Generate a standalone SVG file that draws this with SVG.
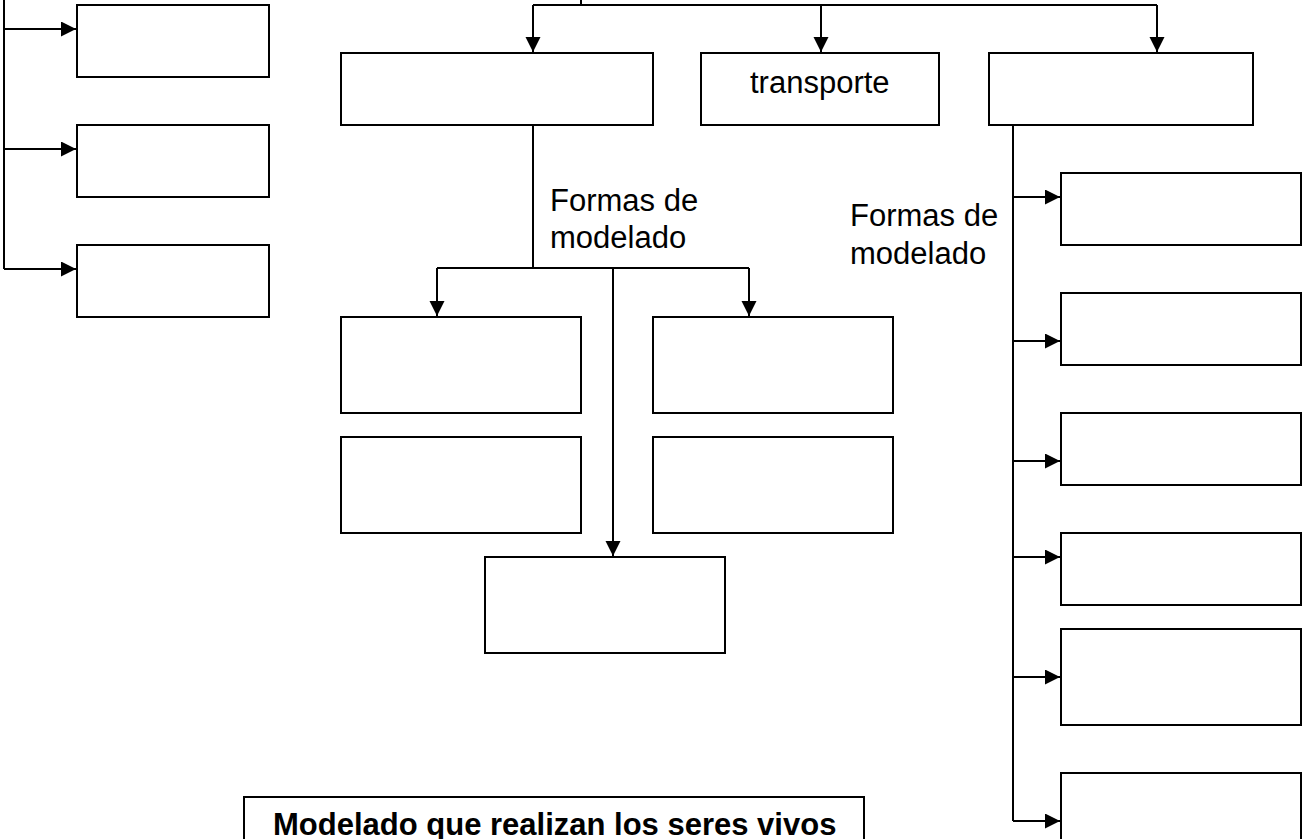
<svg xmlns="http://www.w3.org/2000/svg" width="1303" height="839" viewBox="0 0 1303 839">
<defs>
<marker id="ah" markerUnits="userSpaceOnUse" markerWidth="16" markerHeight="16" refX="15" refY="7.5" orient="auto">
<path d="M0,0 L15,7.5 L0,15 z" fill="#000"/>
</marker>
<style>
.box{fill:#fff;stroke:#000;stroke-width:2}
.ln{fill:none;stroke:#000;stroke-width:2}
.ar{fill:none;stroke:#000;stroke-width:2;marker-end:url(#ah)}
.t{font-family:"Liberation Sans",Arial,sans-serif;font-size:31px;fill:#000}
.b{font-family:"Liberation Sans",Arial,sans-serif;font-size:31px;font-weight:bold;fill:#000}
</style>
</defs>
<rect width="1303" height="839" fill="#fff"/>
<g id="connectors">
<path class="ln" d="M4,0 V269"/>
<path class="ar" d="M4,29 H76"/>
<path class="ar" d="M4,149 H76"/>
<path class="ar" d="M4,269 H76"/>
<path class="ln" d="M581,0 V5 M533,5 H1157"/>
<path class="ar" d="M533,5 V52"/>
<path class="ar" d="M821,5 V52"/>
<path class="ar" d="M1157,5 V52"/>
<path class="ln" d="M533,125 V268 M437,268 H749"/>
<path class="ar" d="M437,268 V316"/>
<path class="ar" d="M749,268 V316"/>
<path class="ar" d="M613,268 V556"/>
<path class="ln" d="M1013,125 V821"/>
<path class="ar" d="M1013,197 H1060"/>
<path class="ar" d="M1013,341 H1060"/>
<path class="ar" d="M1013,461 H1060"/>
<path class="ar" d="M1013,557 H1060"/>
<path class="ar" d="M1013,677 H1060"/>
<path class="ar" d="M1013,821 H1060"/>
</g>
<g id="L1"><rect class="box" x="77" y="5" width="192" height="72"/></g>
<g id="L2"><rect class="box" x="77" y="125" width="192" height="72"/></g>
<g id="L3"><rect class="box" x="77" y="245" width="192" height="72"/></g>
<g id="T1"><rect class="box" x="341" y="53" width="312" height="72"/></g>
<g id="T2"><rect class="box" x="701" y="53" width="238" height="72"/><text class="t" x="750" y="93">transporte</text></g>
<g id="T3"><rect class="box" x="989" y="53" width="264" height="72"/></g>
<g id="lab1"><text class="t" x="550" y="211">Formas de</text><text class="t" x="550" y="248">modelado</text></g>
<g id="lab2"><text class="t" x="850" y="226">Formas de</text><text class="t" x="850" y="264">modelado</text></g>
<g id="M1"><rect class="box" x="341" y="317" width="240" height="96"/></g>
<g id="M2"><rect class="box" x="653" y="317" width="240" height="96"/></g>
<g id="M3"><rect class="box" x="341" y="437" width="240" height="96"/></g>
<g id="M4"><rect class="box" x="653" y="437" width="240" height="96"/></g>
<g id="M5"><rect class="box" x="485" y="557" width="240" height="96"/></g>
<g id="R1"><rect class="box" x="1061" y="173" width="240" height="72"/></g>
<g id="R2"><rect class="box" x="1061" y="293" width="240" height="72"/></g>
<g id="R3"><rect class="box" x="1061" y="413" width="240" height="72"/></g>
<g id="R4"><rect class="box" x="1061" y="533" width="240" height="72"/></g>
<g id="R5"><rect class="box" x="1061" y="629" width="240" height="96"/></g>
<g id="R6"><rect class="box" x="1061" y="773" width="240" height="96"/></g>
<g id="title"><rect class="box" x="244" y="797" width="620" height="80"/><text class="b" x="273" y="835">Modelado que realizan los seres vivos</text></g>
</svg>
